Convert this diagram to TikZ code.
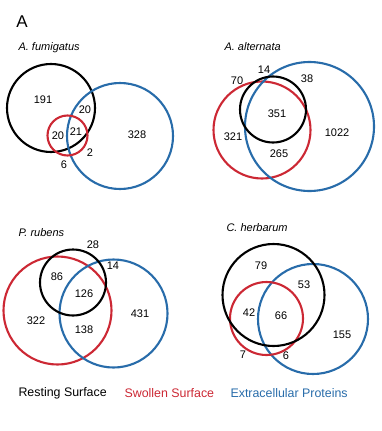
\documentclass[tikz,border=0pt]{standalone}
\usepackage{fontspec}
\setmainfont{Liberation Sans}
\usetikzlibrary{positioning}
\definecolor{swred}{RGB}{204,40,52}
\definecolor{exblue}{RGB}{40,108,170}
\newcommand*{\spname}[1]{\textit{#1}}

\begin{document}
\begin{tikzpicture}[x=1pt,y=-1pt,
  ring/.style={line width=2.1pt},
  num/.style={font=\fontsize{11}{13}\selectfont},
  spc/.style={font=\fontsize{11}{13}\selectfont,anchor=west},
  lgd/.style={font=\fontsize{12.4}{15}\selectfont,anchor=west}]
\useasboundingbox (0,0) rectangle (381,431);
% Panel letter
\node[font=\fontsize{17}{20}\selectfont] (panel) at (22,22) {A};
%% A. fumigatus
\node[spc] (fum) at (15,48) {\spname{A. fumigatus}};
\draw[ring,black] (51,108) circle (44);
\draw[ring,exblue] (120,136) circle (53);
\draw[ring,swred] (67.5,135.5) circle (20);
\node[num] (f191) at (43,100) {191};
\node[num] (f20a) at (85,110) {20};
\node[num] (f20b) at (58,136) {20};
\node[num] (f21) at (76,132) {21};
\node[num] (f328) at (137,135) {328};
\node[num] (f2) at (90,153) {2};
\node[num] (f6) at (64,165) {6};
%% A. alternata
\node[spc] (alt) at (221,47) {\spname{A. alternata}};
\draw[ring,swred] (262,130) circle (48.5);
\draw[ring,exblue] (309.5,126.5) circle (64.5);
\draw[ring,black] (273,109.5) circle (33);
\node[num] (a14) at (264,70) {14};
\node[num] (a70) at (237,81) {70};
\node[num] (a38) at (307,79) {38};
\node[num] (a351) at (277,114) {351};
\node[num] (a321) at (233,137) {321};
\node[num] (a1022) at (337,133) {1022};
\node[num] (a265) at (279,154) {265};
%% P. rubens
\node[spc] (rub) at (15,233) {\spname{P. rubens}};
\draw[ring,swred] (57.5,310.5) circle (54);
\draw[ring,exblue] (113.5,313.5) circle (54);
\draw[ring,black] (73,282.5) circle (33);
\node[num] (r28) at (93,245) {28};
\node[num] (r14) at (113,266) {14};
\node[num] (r86) at (57,277) {86};
\node[num] (r126) at (84,294) {126};
\node[num] (r322) at (36,321) {322};
\node[num] (r138) at (84,330) {138};
\node[num] (r431) at (140,314) {431};
%% C. herbarum
\node[spc] (her) at (223,228) {\spname{C. herbarum}};
\draw[ring,exblue] (313,319) circle (55);
\draw[ring,swred] (266.5,318.5) circle (36.5);
\draw[ring,black] (273.5,295) circle (51);
\node[num] (h79) at (261,266) {79};
\node[num] (h53) at (304,285) {53};
\node[num] (h42) at (249,313) {42};
\node[num] (h66) at (281,316) {66};
\node[num] (h155) at (342,335) {155};
\node[num] (h7) at (243,355) {7};
\node[num] (h6) at (286,356) {6};
%% Legend
\node[lgd] (rest) at (15,393) {Resting Surface};
\node[lgd,text=swred] (swol) at (121,393) {Swollen Surface};
\node[lgd,text=exblue] (extra) at (227,393) {Extracellular Proteins};
\end{tikzpicture}
\end{document}
